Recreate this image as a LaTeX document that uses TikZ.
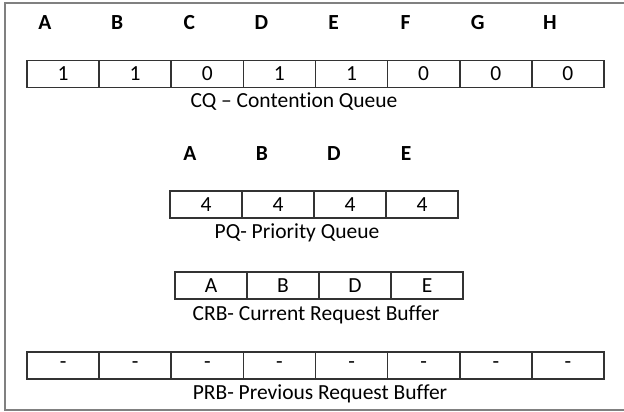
\documentclass[tikz,border=0pt]{standalone}
\usepackage{fontspec}
\setmainfont[Ligatures={TeX,NoCommon}]{Carlito}
\begin{document}
\begin{tikzpicture}[x=1pt,y=-1pt,
  cell/.style={draw=black!80,line width=1.6pt,inner sep=0pt,minimum height=27pt,font=\fontsize{21.5}{24}\selectfont},
  lett/.style={inner sep=0pt,font=\fontsize{21.5}{24}\selectfont\bfseries},
  lbl/.style={inner sep=0pt,font=\fontsize{21.5}{24}\selectfont}]
\useasboundingbox (0,0) rectangle (624,412);
\draw[black!50,line width=2.2pt] (624,3) -- (5,3) -- (5,410) -- (624,410);
% CQ
\foreach \v [count=\i] in {1,1,0,1,1,0,0,0}{
  \node[cell,minimum width=72.125pt] (cq\i) at ({27+72.125*(\i-0.5)},74) {\v};
}
\foreach \l [count=\i] in {A,B,C,D,E,F,G,H}{
  \node[lett] (cl\i) at ({27+72.125*(\i-1)+18},23) {\l};
}
\node[lbl] (cqlab) at (294,102) {CQ – Contention Queue};
% PQ
\foreach \v [count=\i] in {4,4,4,4}{
  \node[cell,minimum width=72pt] (pq\i) at ({170+72*(\i-0.5)},204.5) {\v};
}
\foreach \l [count=\i] in {A,B,D,E}{
  \node[lett] (pl\i) at ({170+72*(\i-1)+20},154) {\l};
}
\node[lbl] (pqlab) at (297,233) {PQ- Priority Queue};
% CRB
\foreach \v [count=\i] in {A,B,D,E}{
  \node[cell,minimum width=72pt] (crb\i) at ({175+72*(\i-0.5)},285.5) {\v};
}
\node[lbl] (crblab) at (316,315) {CRB- Current Request Buffer};
% PRB
\foreach \i in {1,...,8}{
  \node[cell,minimum width=72.125pt] (prb\i) at ({27+72.125*(\i-0.5)},365.5) {-};
}
\node[lbl] (prblab) at (320,394) {PRB- Previous Request Buffer};
\end{tikzpicture}
\end{document}
